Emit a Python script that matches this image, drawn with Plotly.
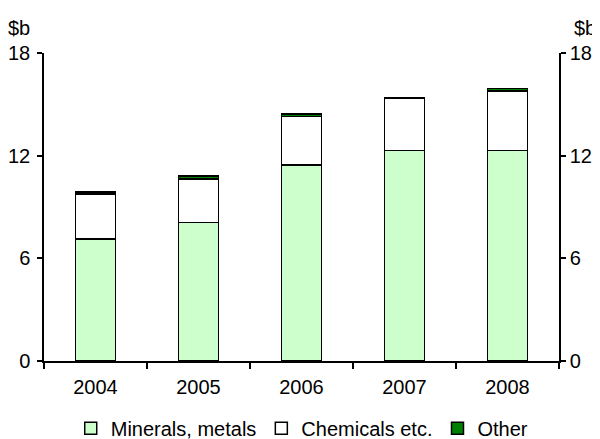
import plotly.graph_objects as go

years = ["2004", "2005", "2006", "2007", "2008"]
minerals = [7.13, 8.10, 11.46, 12.30, 12.30]
chemicals = [2.62, 2.54, 2.83, 3.04, 3.49]
other = [0.12, 0.17, 0.14, 0.03, 0.14]

y_ticks = [0, 6, 12, 18]

FONT = "Liberation Sans, Arial, sans-serif"
FS = 20
line = dict(color="black", width=1.5)

fig = go.Figure()
fig.add_trace(go.Bar(x=years, y=minerals, name="Minerals, metals",
                     marker=dict(color="#ccffcc", line=line)))
fig.add_trace(go.Bar(x=years, y=chemicals, name="Chemicals etc.",
                     marker=dict(color="#ffffff", line=line)))
fig.add_trace(go.Bar(x=years, y=other, name="Other",
                     marker=dict(color="#008000", line=line)))
# invisible trace to activate right axis
fig.add_trace(go.Scatter(x=years, y=[None] * len(years), yaxis="y2",
                         showlegend=False, hoverinfo="skip", mode="lines"))

axis_common = dict(range=[0, 18], tickvals=y_ticks, ticks="outside", ticklen=5,
                   tickwidth=1.5, tickcolor="black", showline=True, linecolor="black",
                   linewidth=1.5, showgrid=False, zeroline=False, automargin=False,
                   tickfont=dict(size=FS, color="black", family=FONT))

fig.update_layout(
    width=592, height=431,
    margin=dict(l=36, r=41, t=45, b=78),
    paper_bgcolor="white", plot_bgcolor="white",
    barmode="stack", bargap=0.61,
    font=dict(family=FONT, size=FS, color="black"),
    xaxis=dict(type="category", tickson="boundaries", ticks="outside", ticklen=6,
               tickwidth=1.5, tickcolor="black", showline=True, linecolor="black",
               linewidth=1.5, showgrid=False, automargin=False, ticklabelstandoff=7,
               tickfont=dict(size=FS, color="black", family=FONT)),
    yaxis=dict(side="left", ticklabelstandoff=3, **axis_common),
    yaxis2=dict(side="right", overlaying="y", **axis_common),
    legend=dict(orientation="h", x=0.497, xanchor="center", xref="container",
                y=0.025, yanchor="middle", yref="container",
                font=dict(size=FS, color="black", family=FONT),
                itemwidth=30, traceorder="normal"),
    annotations=[
        dict(text="$b", xref="paper", yref="paper", x=0, y=1, xshift=-38, yshift=25,
             xanchor="left", yanchor="middle", showarrow=False,
             font=dict(size=FS, color="black", family=FONT)),
        dict(text="$b", xref="paper", yref="paper", x=1, y=1, xshift=39, yshift=25,
             xanchor="right", yanchor="middle", showarrow=False,
             font=dict(size=FS, color="black", family=FONT)),
    ],
    showlegend=True,
)

fig.write_html("out.html")
